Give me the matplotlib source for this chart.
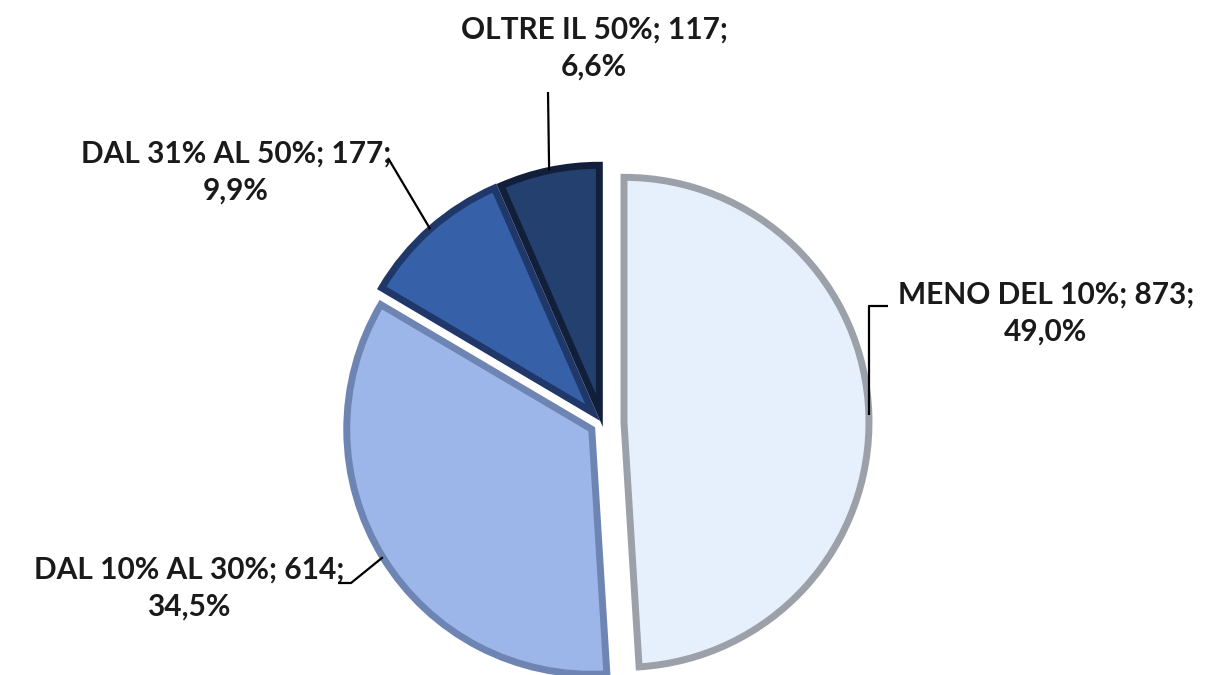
import numpy as np
import matplotlib.pyplot as plt

# data
categories = ["MENO DEL 10%", "DAL 10% AL 30%", "DAL 31% AL 50%", "OLTRE IL 50%"]
counts = [873, 614, 177, 117]
percents = ["49,0%", "34,5%", "9,9%", "6,6%"]

# style
fills = ["#E6EFFC", "#9DB6EA", "#3661A8", "#24406F"]
edges = ["#9CA1A9", "#6E85B4", "#1F3769", "#121F3A"]
explode = [22, 12, 14, 13]  # offsets in pixels

W, H = 1225, 675
fig = plt.figure(figsize=(W / 100, H / 100), dpi=100)
ax = fig.add_axes([0, 0, 1, 1])

# pie in pixel units (y up)
center = (602, H - 423)
radius = 245
wedges, _ = ax.pie(counts, colors=fills, explode=explode, startangle=90,
                   counterclock=False, center=center, radius=radius,
                   wedgeprops=dict(edgecolor="none"), frame=True)
for w, ec in zip(wedges, edges):
    w.set_edgecolor(ec)
    w.set_linewidth(5)
    w.set_joinstyle("miter")
ax.set_xlim(0, W)
ax.set_ylim(0, H)
ax.set_aspect("equal")
ax.axis("off")

# label layout: text centre and leader start (image pixel coords, y down)
text_pos = [(1046, 313), (189, 588), (236, 172), (594, 48)]
leader_start = [(888, 306), (338, 583), (388, 158), (548, 92)]

for i, w in enumerate(wedges):
    mid = np.deg2rad((w.theta1 + w.theta2) / 2)
    cx, cy = w.center
    ex = cx + w.r * np.cos(mid)
    ey = cy + w.r * np.sin(mid)
    sx, sy = leader_start[i][0], H - leader_start[i][1]
    if i == 0:
        xs, ys = [sx, ex, ex], [sy, sy, ey]
    elif i == 1:
        xs, ys = [sx, sx + 13, ex], [sy, sy, ey]
    else:
        xs, ys = [sx, ex], [sy, ey]
    ax.plot(xs, ys, color="black", lw=1.6, solid_capstyle="butt", zorder=5)

    label = f"{categories[i]}; {counts[i]};\n{percents[i]}"
    tx, ty = text_pos[i]
    ax.text(tx, H - ty, label, ha="center", va="center", multialignment="center",
            fontsize=21.5, fontweight="bold", family=["Lato", "DejaVu Sans"],
            color="#1A1A1A", linespacing=1.4)

fig.savefig("out.png", dpi=100)
